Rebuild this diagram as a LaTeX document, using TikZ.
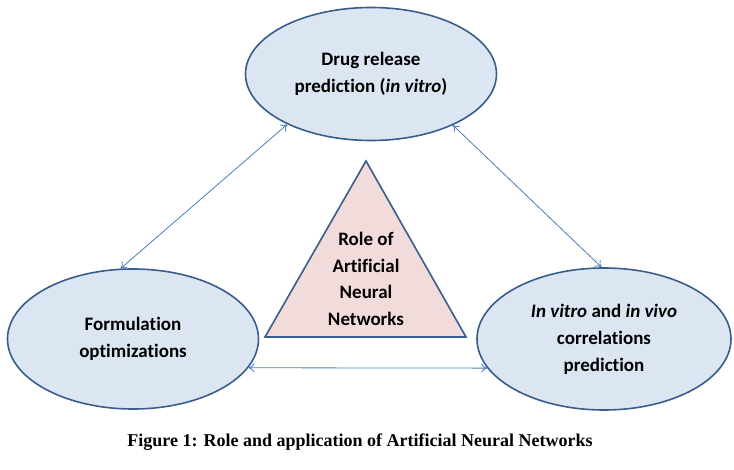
\documentclass[tikz,border=0pt]{standalone}
\usepackage{fontspec}
\setmainfont{Carlito}[Ligatures={NoCommon}]
\newfontfamily\capfont{Liberation Serif}
\usetikzlibrary{shapes.geometric,arrows.meta}
\definecolor{ellfill}{RGB}{220,230,242}
\definecolor{ellline}{RGB}{56,93,138}
\definecolor{trifill}{RGB}{242,220,219}
\definecolor{arrcol}{RGB}{74,126,187}
\tikzset{
  ell/.style={ellipse, draw=ellline, fill=ellfill, line width=1.6pt, inner sep=0pt,
    align=center, font=\fontsize{19}{27}\selectfont\bfseries},
  tri/.style={draw=ellline, fill=trifill, line width=1.6pt, line join=miter},
  tritext/.style={align=center, inner sep=0pt, font=\fontsize{19}{26.5}\selectfont\bfseries},
  arr/.style={draw=arrcol, line width=0.8pt, {To[length=6pt,width=9pt]}-{To[length=6pt,width=9pt]}},
}
\begin{document}
\begin{tikzpicture}[x=1pt,y=-1pt]
\useasboundingbox (0,0) rectangle (734,470);
\node[ell, minimum width=251pt, minimum height=133pt] (top) at (371,74) {Drug release\\prediction (\textit{in vitro})};
\node[ell, minimum width=251pt, minimum height=140pt] (left) at (133,339) {Formulation\\optimizations};
\node[ell, minimum width=254pt, minimum height=142pt] (right) at (604,339) {\textit{In vitro} and \textit{in vivo}\\correlations\\prediction};
\coordinate (tA) at (366,161);
\coordinate (tB) at (265,337);
\coordinate (tC) at (466,337);
\path[tri] (tA) -- (tB) -- (tC) -- cycle;
\node[tritext] (ann) at (366,279) {Role of\\Artificial\\Neural\\Networks};
\draw[arr] (top.211) -- (left.100);
\draw[arr] (top.328) -- (right.92);
\draw[arr] (left.-14) -- (right.194);
\node[font=\capfont\fontsize{18}{20}\selectfont\bfseries] (cap) at (360,442) {Figure 1: Role and application of Artificial Neural Networks};
\end{tikzpicture}
\end{document}
